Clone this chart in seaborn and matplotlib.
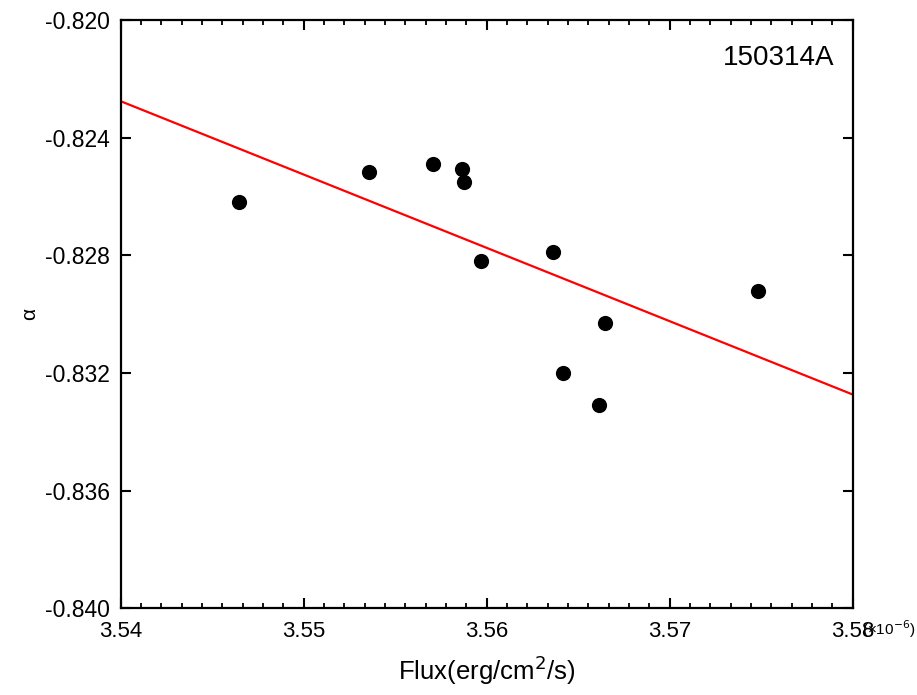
import numpy as np
import pandas as pd
import matplotlib
matplotlib.use("Agg")
import matplotlib.pyplot as plt
from matplotlib.ticker import MultipleLocator, AutoMinorLocator, FormatStrFormatter
import seaborn as sns

# Flux in units of 1e-6 erg/cm^2/s, spectral index alpha
flux = [3.54645, 3.55355, 3.55705, 3.55867, 3.55876, 3.55967,
        3.56364, 3.56415, 3.56646, 3.56615, 3.57482]
alpha = [-0.82620, -0.82518, -0.82489, -0.82507, -0.82550, -0.82818,
         -0.82790, -0.83201, -0.83029, -0.83310, -0.82920]
grb_name = "150314A"

df = pd.DataFrame({"flux": flux, "alpha": alpha})

sns.set_style("ticks")
plt.rcParams['font.family'] = ['Liberation Sans', 'DejaVu Sans']
plt.rcParams['text.color'] = 'black'
plt.rcParams['xtick.color'] = 'black'
plt.rcParams['ytick.color'] = 'black'
plt.rcParams['axes.labelcolor'] = 'black'

fig = plt.figure(figsize=(9.17, 6.95), dpi=100)
ax = fig.add_axes([0.1316, 0.1245, 0.7983, 0.8467])

# limits first, so the fit line reaches the frame
ax.set_xlim(3.54, 3.58)
ax.set_ylim(-0.840, -0.820)

sns.scatterplot(data=df, x="flux", y="alpha", color="black", s=120,
                edgecolor="black", linewidth=0, zorder=3, ax=ax)
sns.regplot(data=df, x="flux", y="alpha", scatter=False, ci=None,
            truncate=False, color="red", line_kws={"linewidth": 1.6}, ax=ax)

ax.set_xlim(3.54, 3.58)
ax.set_ylim(-0.840, -0.820)

# ticks
ax.xaxis.set_major_locator(MultipleLocator(0.01))
ax.xaxis.set_minor_locator(AutoMinorLocator(9))
ax.xaxis.set_major_formatter(FormatStrFormatter("%.2f"))
ax.yaxis.set_major_locator(MultipleLocator(0.004))
ax.yaxis.set_major_formatter(FormatStrFormatter("%.3f"))
ax.tick_params(axis="x", which="major", direction="in", length=7, width=1.5,
               top=True, labelsize=16, pad=9)
ax.tick_params(axis="x", which="minor", direction="in", length=3.6, width=1.3,
               top=True)
ax.tick_params(axis="y", which="major", direction="in", length=7, width=1.5,
               right=True, labelsize=16.5, pad=8)
ax.tick_params(axis="y", which="minor", left=False, right=False)

for sp in ax.spines.values():
    sp.set_visible(True)
    sp.set_linewidth(1.6)
    sp.set_color("black")

ax.set_xlabel("Flux(erg/cm$^2$/s)", fontsize=18.5, labelpad=8)
ax.set_ylabel("α", fontsize=15, labelpad=4)

ax.text(0.9745, 0.957, grb_name, transform=ax.transAxes, fontsize=20,
        ha="right", va="top")
ax.text(1.013, -0.035, "(×10$^{-6}$)", transform=ax.transAxes, fontsize=11,
        ha="left", va="center")

fig.savefig("out.png", dpi=100)
